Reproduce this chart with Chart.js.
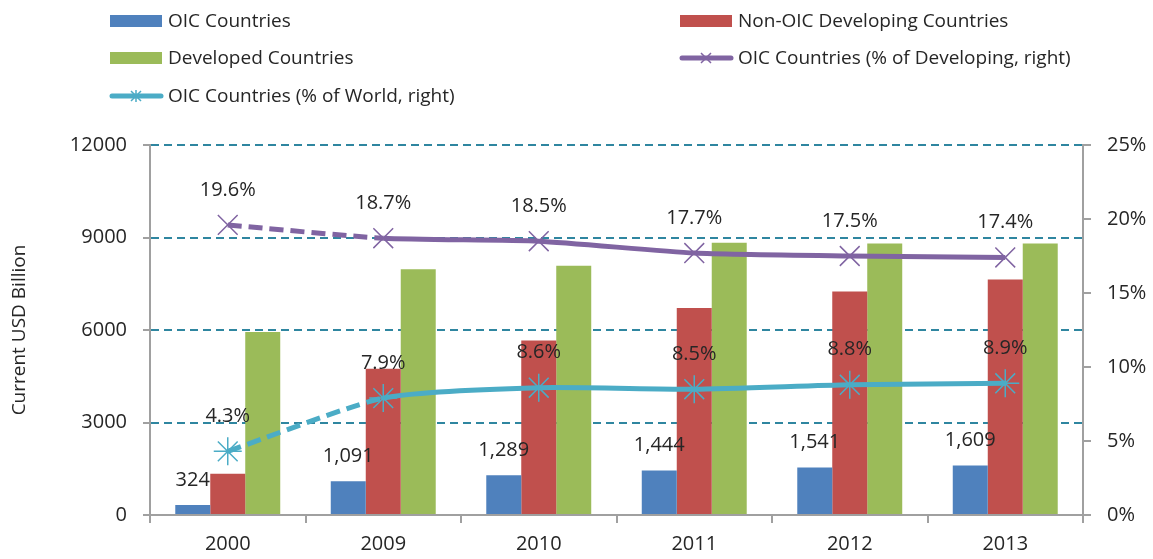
<!DOCTYPE html>
<html>
<head>
<meta charset="utf-8">
<title>OIC GDP chart</title>
<script src="https://cdn.jsdelivr.net/npm/chart.js@4.4.1/dist/chart.umd.min.js"></script>
<style>
  html, body { margin: 0; padding: 0; background: #fff; }
  #wrap { width: 1153px; height: 559px; position: relative; }
</style>
</head>
<body>
<div id="wrap"><canvas id="gdpChart"></canvas></div>
<script>
// Chart data
const years = ["2000", "2009", "2010", "2011", "2012", "2013"];
const oicValues = [324, 1091, 1289, 1444, 1541, 1609];
const nonOicValues = [1340, 4745, 5662, 6711, 7249, 7637];
const developedValues = [5934, 7974, 8081, 8826, 8803, 8803];
const oicShareDeveloping = [19.6, 18.7, 18.5, 17.7, 17.5, 17.4];
const oicShareWorld = [4.3, 7.9, 8.6, 8.5, 8.8, 8.9];
const leftTicks = [0, 3000, 6000, 9000, 12000];
const rightTicks = [0, 5, 10, 15, 20, 25];

const FONT = "'Open Sans', 'DejaVu Sans', sans-serif";
const TEXT = "#262626";
const AXIS = "#a0a0a0";

// dashed first segment (2000 -> 2009)
const gapDash = ctx => ctx.p0DataIndex === 0 ? [14, 7] : undefined;

// Value labels above OIC bars and line points
const labelPlugin = {
  id: "valueLabels",
  afterDatasetsDraw(chart) {
    const c = chart.ctx;
    c.save();
    c.font = "20px " + FONT;
    c.fillStyle = TEXT;
    c.textAlign = "center";
    c.textBaseline = "middle";
    chart.data.datasets.forEach((ds, i) => {
      const meta = chart.getDatasetMeta(i);
      if (ds.labelKind === "bar") {
        meta.data.forEach((el, j) => {
          c.fillText(ds.data[j].toLocaleString("en-US"), el.x, el.y - 25);
        });
      } else if (ds.labelKind === "pct") {
        meta.data.forEach((el, j) => {
          c.fillText(ds.data[j].toFixed(1) + "%", el.x, el.y - 35);
        });
      }
    });
    c.restore();
  }
};

// Two-column legend at the top
const legendPlugin = {
  id: "gridLegend",
  afterDraw(chart) {
    const c = chart.ctx;
    const slots = [[110, 21], [680, 21], [110, 58], [680, 58], [110, 96]];
    c.save();
    c.font = "19px " + FONT;
    c.textBaseline = "middle";
    chart.data.datasets.forEach((ds, i) => {
      const [x, y] = slots[i];
      if (ds.type === "line") {
        c.strokeStyle = ds.borderColor;
        c.lineWidth = 5;
        c.lineCap = "round";
        c.beginPath();
        c.moveTo(x + 2, y);
        c.lineTo(x + 51, y);
        c.stroke();
        c.lineCap = "butt";
        c.lineWidth = 1.5;
        c.beginPath();
        const r = 5;
        c.moveTo(x + 26 - r, y - r); c.lineTo(x + 26 + r, y + r);
        c.moveTo(x + 26 + r, y - r); c.lineTo(x + 26 - r, y + r);
        if (ds.pointStyle === "star") { c.moveTo(x + 26, y - r - 1); c.lineTo(x + 26, y + r + 1); }
        c.stroke();
      } else {
        c.fillStyle = ds.backgroundColor;
        c.fillRect(x, y - 6, 52, 12);
      }
      c.fillStyle = TEXT;
      c.fillText(ds.label, x + 58, y + 1);
    });
    c.restore();
  }
};

const ctx = document.getElementById("gdpChart");
new Chart(ctx, {
  data: {
    labels: years,
    datasets: [
      {
        type: "bar", label: "OIC Countries", data: oicValues,
        backgroundColor: "#4F81BD", yAxisID: "y", order: 2, labelKind: "bar",
        categoryPercentage: 0.675, barPercentage: 1
      },
      {
        type: "bar", label: "Non-OIC Developing Countries", data: nonOicValues,
        backgroundColor: "#C0504D", yAxisID: "y", order: 2,
        categoryPercentage: 0.675, barPercentage: 1
      },
      {
        type: "bar", label: "Developed Countries", data: developedValues,
        backgroundColor: "#9BBB59", yAxisID: "y", order: 2,
        categoryPercentage: 0.675, barPercentage: 1
      },
      {
        type: "line", label: "OIC Countries (% of Developing, right)", data: oicShareDeveloping,
        borderColor: "#8064A2", backgroundColor: "#8064A2", borderWidth: 5,
        pointStyle: "crossRot", pointRadius: 14, pointBorderWidth: 1.5, pointBorderColor: "#8064A2",
        tension: 0.2, yAxisID: "y1", order: 1, labelKind: "pct",
        segment: { borderDash: gapDash }
      },
      {
        type: "line", label: "OIC Countries (% of World, right)", data: oicShareWorld,
        borderColor: "#4BACC6", backgroundColor: "#4BACC6", borderWidth: 5,
        pointStyle: "star", pointRadius: 14, pointBorderWidth: 1.5, pointBorderColor: "#4BACC6",
        tension: 0.2, yAxisID: "y1", order: 0, labelKind: "pct",
        segment: { borderDash: gapDash }
      }
    ]
  },
  options: {
    responsive: true,
    maintainAspectRatio: false,
    animation: false,
    layout: { padding: { top: 145, left: 0, right: 0, bottom: 0 } },
    plugins: {
      legend: { display: false },
      tooltip: { enabled: false }
    },
    scales: {
      x: {
        offset: true,
        grid: { drawOnChartArea: false, drawTicks: true, tickLength: 8, color: AXIS, lineWidth: 2, offset: true },
        border: { color: AXIS, width: 2 },
        ticks: { font: { family: FONT, size: 20 }, color: TEXT, padding: 9 },
        afterFit: s => { s.height = 44; }
      },
      y: {
        position: "left",
        min: 0, max: 12000,
        afterBuildTicks: s => { s.ticks = leftTicks.map(v => ({ value: v })); },
        grid: {
          color: "#2F86A0", lineWidth: 2,
          tickLength: 7, tickColor: AXIS, tickWidth: 2, tickBorderDash: []
        },
        border: { color: AXIS, width: 2, dash: [8, 5] },
        ticks: { font: { family: FONT, size: 20 }, color: TEXT, padding: 16, callback: v => String(v) },
        title: {
          display: true, text: "Current USD Billion",
          font: { family: FONT, size: 19 }, color: TEXT, padding: { top: 8, bottom: 0 }
        },
        afterFit: s => { s.width = 150; }
      },
      y1: {
        position: "right",
        min: 0, max: 25,
        afterBuildTicks: s => { s.ticks = rightTicks.map(v => ({ value: v })); },
        grid: { drawOnChartArea: false, tickLength: 8, color: AXIS, lineWidth: 2 },
        border: { color: AXIS, width: 2 },
        ticks: { font: { family: FONT, size: 20 }, color: TEXT, padding: 16, callback: v => v + "%" },
        afterFit: s => { s.width = 70; }
      }
    }
  },
  plugins: [labelPlugin, legendPlugin]
});
</script>
</body>
</html>
